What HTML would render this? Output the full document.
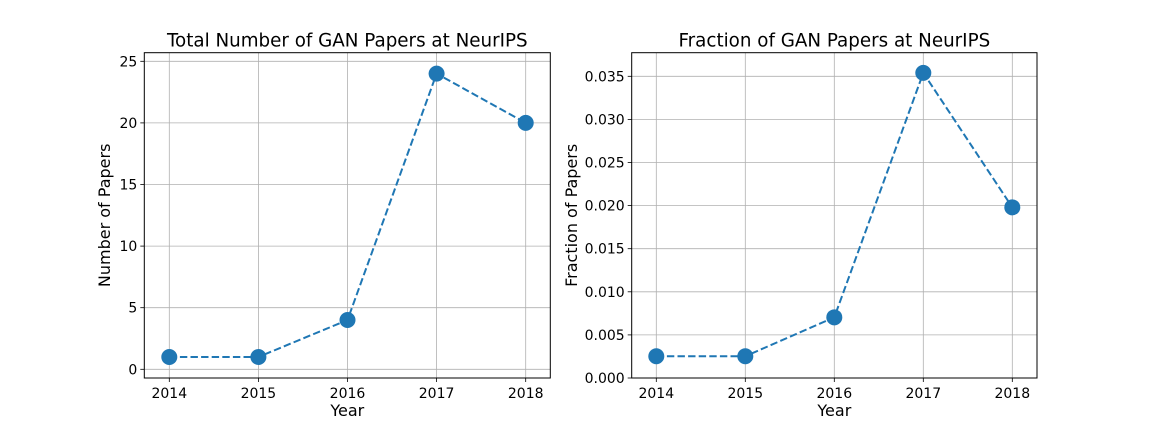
<!DOCTYPE html>
<html><head><meta charset="utf-8"><style>
html,body{margin:0;padding:0;background:#fff;}
svg{display:block;font-family:"DejaVu Sans","Liberation Sans",sans-serif;}
</style></head><body>
<svg id="chart" width="1152" height="432" viewBox="0 0 1152 432"></svg>
<script>
const years = [2014, 2015, 2016, 2017, 2018];
const totalPapers = [1, 1, 4, 24, 20];
const fractionPapers = [0.00252, 0.00252, 0.00704, 0.0354, 0.0198];
const leftTicks = [0, 5, 10, 15, 20, 25];
const leftTickLabels = ["0", "5", "10", "15", "20", "25"];
const rightTicks = [0, 0.005, 0.01, 0.015, 0.02, 0.025, 0.03, 0.035];
const rightTickLabels = ["0.000","0.005","0.010","0.015","0.020","0.025","0.030","0.035"];

const NS = "http://www.w3.org/2000/svg";
const svg = document.getElementById('chart');
function mk(tag, attrs, parent){const e=document.createElementNS(NS,tag);for(const k in attrs)e.setAttribute(k,attrs[k]);(parent||svg).appendChild(e);return e;}

function panel(cfg){
  const g = mk('g',{});
  
  
  const {L,R,T,B} = cfg;
  const xs = v => cfg.x0 + (v - years[0]) * (cfg.x1 - cfg.x0) / (years[years.length-1] - years[0]);
  const ys = v => cfg.y0 + (v - cfg.v0) * (cfg.y1 - cfg.y0) / (cfg.v1 - cfg.v0);
  years.forEach(yr=>{
    const l = mk('line',{x1:xs(yr),x2:xs(yr),y1:T,y2:B,stroke:'#b0b0b0','stroke-width':0.8},g);
    
    
  });
  cfg.ticks.forEach(v=>{
    const l = mk('line',{x1:L,x2:R,y1:ys(v),y2:ys(v),stroke:'#b0b0b0','stroke-width':0.8},g);
    
    
  });
  const pts = years.map((yr,i)=>xs(yr)+','+ys(cfg.vals[i])).join(' ');
  const pl = mk('polyline',{points:pts,fill:'none',stroke:'#1f77b4','stroke-width':2,'stroke-dasharray':'7.4,3.2'},g);
  
  
  years.forEach((yr,i)=>{
    const c = mk('circle',{cx:xs(yr),cy:ys(cfg.vals[i]),r:8,fill:'#1f77b4'},g);
    
    
  });
  const fr = mk('rect',{x:L,y:T,width:R-L,height:B-T,fill:'none',stroke:'#000','stroke-width':1},g);
  
  
  years.forEach(yr=>{
    mk('line',{x1:xs(yr),x2:xs(yr),y1:B,y2:B+4,stroke:'#000','stroke-width':0.8},g);
    const t = mk('text',{x:xs(yr),y:B+20,'text-anchor':'middle','font-size':14,fill:'#000'},g);
    t.textContent = yr;
    
    
  });
  cfg.ticks.forEach((v,i)=>{
    mk('line',{x1:L-4,x2:L,y1:ys(v),y2:ys(v),stroke:'#000','stroke-width':0.8},g);
    const t = mk('text',{x:L-7,y:ys(v)+5,'text-anchor':'end','font-size':14,fill:'#000'},g);
    t.textContent = cfg.labels[i];
    
    
  });
  const tt = mk('text',{x:(L+R)/2,y:T-6,'text-anchor':'middle','font-size':18.3,fill:'#000'},g);
  tt.textContent = cfg.title;
  
  
  const xl = mk('text',{x:(L+R)/2,y:B+38,'text-anchor':'middle','font-size':16,fill:'#000'},g);
  xl.textContent = 'Year';
  
  
  const yl = mk('text',{x:0,y:0,'text-anchor':'middle','font-size':16,fill:'#000',transform:`translate(${cfg.ylx},${(T+B)/2}) rotate(-90)`},g);
  yl.textContent = cfg.ytitle;
  
  
}
panel({name:'total-papers-chart',L:144.3,R:550.3,T:52.7,B:378,x0:169.3,x1:525.7,y0:369.3,y1:61.3,v0:0,v1:25,
  vals:totalPapers,ticks:leftTicks,labels:leftTickLabels,title:'Total Number of GAN Papers at NeurIPS',ytitle:'Number of Papers',ylx:110});
panel({name:'fraction-papers-chart',L:631.7,R:1037,T:52.7,B:378,x0:656.3,x1:1012.3,y0:378,y1:76.3,v0:0,v1:0.035,
  vals:fractionPapers,ticks:rightTicks,labels:rightTickLabels,title:'Fraction of GAN Papers at NeurIPS',ytitle:'Fraction of Papers',ylx:577});
</script>
</body></html>
